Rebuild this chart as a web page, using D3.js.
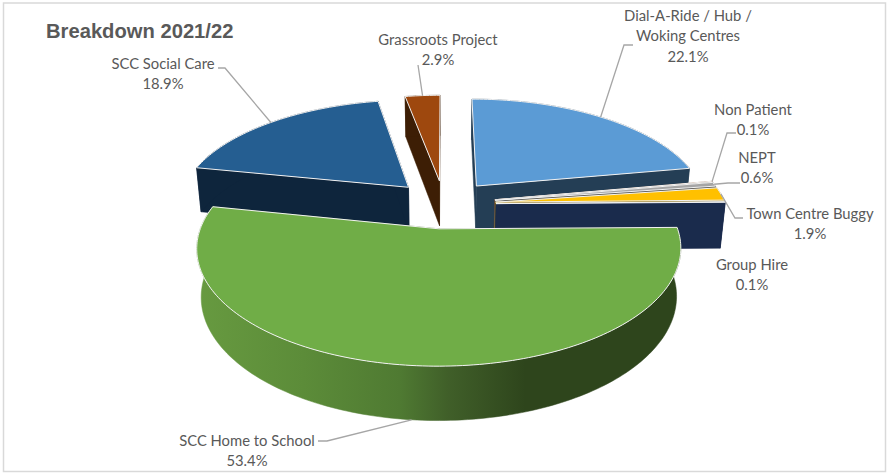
<!DOCTYPE html>
<html>
<head>
<meta charset="utf-8">
<script src="https://cdn.jsdelivr.net/npm/d3@7"></script>
<style>
  body { margin: 0; background: #fff; }
  text { font-family: Lato, sans-serif; font-size: 14.8px; fill: #595959; }
  .chart-title { font-family: "Liberation Sans", sans-serif; font-size: 20.2px; font-weight: bold; }
</style>
</head>
<body>
<div id="chart"></div>
<script>
var categories = ["Dial-A-Ride / Hub / Woking Centres", "Non Patient", "NEPT", "Town Centre Buggy", "Group Hire", "SCC Home to School", "SCC Social Care", "Grassroots Project"];
var shares = [22.1, 0.1, 0.6, 1.9, 0.1, 53.4, 18.9, 2.9];
var topColours = ["#5b9bd5", "#ed7d31", "#a5a5a5", "#ffc000", "#4472c4", "#70ad47", "#255e91", "#9e480e"];
var wallColours = ["#243e55", "#6b3815", "#5a5a5a", "#a67c00", "#1a2b4c", "#3a5a25", "#0e253c", "#3d1e05"];
var labelLines = [["Dial-A-Ride / Hub /", "Woking Centres", "22.1%"], ["Non Patient", "0.1%"], ["NEPT", "0.6%"], ["Town Centre Buggy", "1.9%"], ["Group Hire", "0.1%"], ["SCC Home to School", "53.4%"], ["SCC Social Care", "18.9%"], ["Grassroots Project", "2.9%"]];
// centre x and first baseline of each label
var labelPos = [[688, 21], [753, 115], [757, 163], [810, 219], [752, 270], [247, 446], [163, 69], [438, 45]];
// leader: elbow, then where it stops next to the text
var elbows = [[624, 45], [727, 133], [728, 183], [735, 218], null, [327, 441], [225, 68], [418, 65]];
var leaderEnds = [[633, 45], [736, 133], [740, 183], [743, 218], null, [318, 441], [218, 68], [418, 65]];

var svgWidth = 887;
var svgHeight = 473;

var svg = d3.select("#chart")
  .append("svg")
  .attr("width", svgWidth)
  .attr("height", svgHeight);

// pie geometry in the plane of the disc, then a small perspective
var cx = 444, cy = 204, radius = 230, tilt = 0.462, persp = 0.0007;
var explode = 52, depth = 46, bottomScale = 0.982;

function project(u, v, down) {
  var f = 1 / (1 - persp * v);
  var g = down ? bottomScale : 1;
  return [cx + u * f * g, cy + v * tilt * f * g + (down ? depth * f : 0)];
}

var pie = d3.pie().sort(null).value(d => d);
var arcs = pie(shares).map(function(a, i) {
  var mid = (a.startAngle + a.endAngle) / 2;
  return {
    i: i,
    start: a.startAngle,
    end: a.endAngle,
    mid: mid,
    ox: explode * Math.sin(mid),
    oy: -explode * Math.cos(mid)
  };
});

function rim(s, angle, down) {
  return project(s.ox + radius * Math.sin(angle), s.oy - radius * Math.cos(angle), down);
}
function apex(s, down) {
  return project(s.ox, s.oy, down);
}
function rimPoints(s, from, to, down) {
  var n = Math.max(2, Math.ceil((to - from) / 0.02));
  return d3.range(n + 1).map(k => rim(s, from + (to - from) * k / n, down));
}

var line = d3.line().curve(d3.curveLinear);
var closedPath = pts => line(pts) + "Z";

// green wall shading runs left to right, flat dark on the right
var defs = svg.append("defs");
var grad = defs.append("linearGradient")
  .attr("id", "greenWall")
  .attr("gradientUnits", "userSpaceOnUse")
  .attr("x1", 197).attr("x2", 680).attr("y1", 0).attr("y2", 0);
[[0, "#679a40"], [0.22, "#5c8c39"], [0.42, "#4f7a32"], [0.52, "#405f29"], [0.68, "#2e451c"], [1, "#2e451c"]].forEach(function(s) {
  grad.append("stop").attr("offset", s[0]).attr("stop-color", s[1]);
});

// back slices first
var order = arcs.slice().sort((a, b) => Math.cos(b.mid) - Math.cos(a.mid));

var slices = svg.selectAll("g.slice")
  .data(order)
  .enter()
  .append("g")
  .attr("class", "slice");

slices.each(function(s) {
  var g = d3.select(this);
  var wall = s.i == 5 ? "url(#greenWall)" : wallColours[s.i];
  var faces = [
    [apex(s, false), rim(s, s.start, false), rim(s, s.start, true), apex(s, true)],
    [apex(s, false), rim(s, s.end, false), rim(s, s.end, true), apex(s, true)],
    rimPoints(s, s.start, s.end, false).concat(rimPoints(s, s.start, s.end, true).reverse())
  ];
  g.selectAll("path.wall")
    .data(faces)
    .enter()
    .append("path")
    .attr("class", "wall")
    .attr("d", closedPath)
    .attr("fill", wall)
    .attr("stroke", wall)
    .attr("stroke-width", 0.5);
  g.append("path")
    .attr("class", "top")
    .attr("d", closedPath([apex(s, false)].concat(rimPoints(s, s.start, s.end, false))))
    .attr("fill", topColours[s.i])
    .attr("stroke", "#f2f2f2")
    .attr("stroke-width", 1);
});

// frame
svg.append("rect")
  .attr("x", 3.5).attr("y", 3).attr("width", 882).attr("height", 468.5)
  .attr("fill", "none")
  .attr("stroke", "#d9d9d9")
  .attr("stroke-width", 1.5);

svg.append("text")
  .attr("class", "chart-title")
  .attr("x", 46)
  .attr("y", 38)
  .text("Breakdown 2021/22");

// leaders
svg.selectAll("path.leader")
  .data(arcs.filter(s => elbows[s.i]))
  .enter()
  .append("path")
  .attr("class", "leader")
  .attr("d", s => line([rim(s, s.mid, s.i == 5), elbows[s.i], leaderEnds[s.i]]))
  .attr("fill", "none")
  .attr("stroke", "#a6a6a6")
  .attr("stroke-width", 1.3);

var labels = svg.selectAll("text.label")
  .data(arcs)
  .enter()
  .append("text")
  .attr("class", "label")
  .attr("text-anchor", "middle")
  .attr("y", s => labelPos[s.i][1]);

labels.selectAll("tspan")
  .data(s => labelLines[s.i].map(t => ({ t: t, x: labelPos[s.i][0] })))
  .enter()
  .append("tspan")
  .attr("x", d => d.x)
  .attr("dy", (d, j) => j == 0 ? 0 : 20.3)
  .text(d => d.t);
</script>
</body>
</html>
